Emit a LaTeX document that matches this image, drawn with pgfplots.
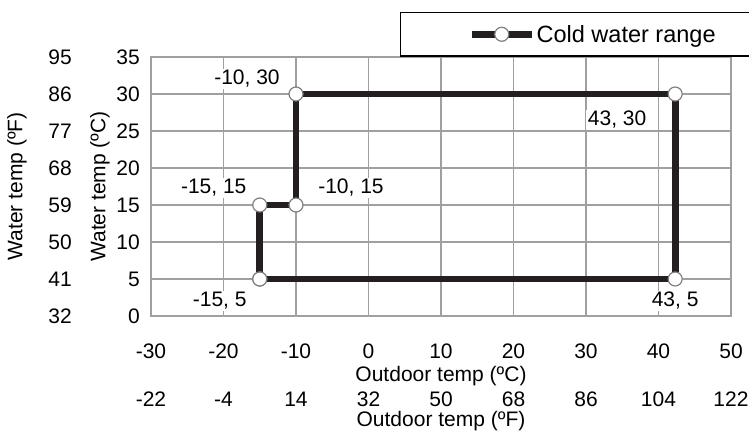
\documentclass[border=0pt]{standalone}
\usepackage{pgfplots}
\pgfplotsset{compat=1.18}
\usepackage{fontspec}
\setmainfont{Liberation Sans}
\definecolor{lineblk}{RGB}{35,31,32}
\definecolor{gridgray}{RGB}{160,160,160}
\definecolor{markgray}{RGB}{128,128,128}
\newcommand{\f}{\fontsize{21}{25}\selectfont}
\begin{document}
\begin{tikzpicture}[x=1pt,y=1pt]
\useasboundingbox (0,0) rectangle (749,432);
% secondary (Fahrenheit) axis: labels only
\begin{axis}[
  at={(151pt,116pt)}, anchor=south west,
  scale only axis, width=580pt, height=259pt,
  xmin=-22, xmax=122, ymin=32, ymax=95,
  xtick={-22,-4,14,32,50,68,86,104,122},
  xticklabels={-22,-4,14,32,50,68,86,104,122},
  ytick={32,41,50,59,68,77,86,95},
  yticklabels={32,41,50,59,68,77,86,95},
  axis line style={draw=none},
  major tick length=0pt,
  every tick label/.append style={font=\f, inner sep=0pt},
  xticklabel style={anchor=north, yshift=-75.5pt},
  yticklabel style={anchor=east, xshift=-79pt},
  xlabel={Outdoor temp (ºF)},
  ylabel={Water temp (ºF)},
  label style={font=\f},
  xlabel style={at={(axis description cs:0.5,-0.405)}, anchor=center},
  ylabel style={at={(axis description cs:-0.231,0.5)}, anchor=center, rotate=0},
]
\addplot[draw=none, forget plot] coordinates {(0,40)};
\end{axis}
% primary axis
\begin{axis}[
  at={(151pt,116pt)}, anchor=south west,
  scale only axis, width=580pt, height=259pt,
  xmin=-30, xmax=50, ymin=0, ymax=35,
  xtick={-30,-20,...,50},
  xticklabels={-30,-20,-10,0,10,20,30,40,50},
  ytick={0,5,...,35},
  yticklabels={0,5,10,15,20,25,30,35},
  grid=major,
  grid style={gridgray, line width=1.2pt},
  axis line style={gridgray, line width=1.2pt},
  major tick length=0pt,
  every tick label/.append style={font=\f, inner sep=0pt},
  xticklabel style={anchor=north, yshift=-27.5pt},
  yticklabel style={anchor=east, xshift=-11pt},
  xlabel={Outdoor temp (ºC)},
  ylabel={Water temp (ºC)},
  label style={font=\f},
  xlabel style={at={(axis description cs:0.5,-0.232)}, anchor=center},
  ylabel style={at={(axis description cs:-0.088,0.5)}, anchor=center},
  legend style={at={(axis description cs:0.429,1.174)}, anchor=north west,
    draw=black, line width=1.1pt, inner xsep=68pt, inner ysep=9.5pt,
    font=\fontsize{23.5}{27}\selectfont,
    nodes={inner xsep=1.5pt, inner ysep=3pt}},
  legend image code/.code={
    \draw[mark repeat=2,mark phase=2]
      plot coordinates {(0pt,0pt) (30pt,0pt) (60pt,0pt)};},
  clip=false,
]
\addplot[lineblk, line width=6.8pt, line join=miter,
  mark=*, mark size=7pt,
  mark options={fill=white, draw=markgray, line width=1.2pt}]
  coordinates {(-15,5) (42.3,5) (42.3,30) (-10,30) (-10,15) (-15,15) (-15,5)};
\addlegendentry{Cold water range}
\begin{scope}[every node/.style={font=\f, fill=white, inner sep=1.5pt}]
\node at (axis cs:-10,30) [xshift=-49pt, yshift=15pt] {-10, 30};
\node at (axis cs:42.3,30) [xshift=-58pt, yshift=-26pt] {43, 30};
\node at (axis cs:-10,15) [xshift=55pt, yshift=17pt] {-10, 15};
\node at (axis cs:-15,15) [xshift=-46pt, yshift=17pt] {-15, 15};
\node at (axis cs:-15,5) [xshift=-40pt, yshift=-22pt] {-15, 5};
\node at (axis cs:42.3,5) [yshift=-22pt] {43, 5};
\end{scope}
\end{axis}
\end{tikzpicture}
\end{document}
